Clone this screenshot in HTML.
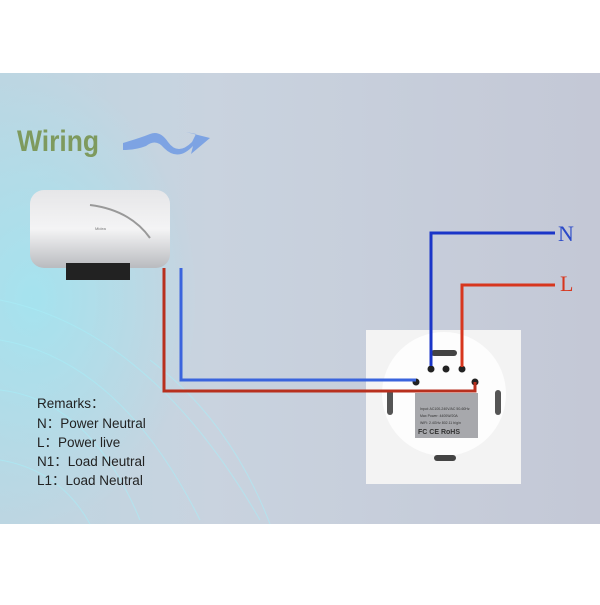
<!DOCTYPE html><html><head><style>body{margin:0;width:600px;height:600px;overflow:hidden;background:#fff;font-family:"Liberation Sans",sans-serif}</style></head><body>
<svg width="600" height="600" viewBox="0 0 600 600" xmlns="http://www.w3.org/2000/svg">
<defs>
<linearGradient id="bg" x1="0" y1="0" x2="1" y2="0"><stop offset="0" stop-color="#bcd6e2"/><stop offset="0.35" stop-color="#c9d3df"/><stop offset="1" stop-color="#c4c8d6"/></linearGradient>
<radialGradient id="glow" cx="0.1" cy="0.5" r="0.5"><stop offset="0" stop-color="#9fe6f2" stop-opacity="0.8"/><stop offset="1" stop-color="#9fe6f2" stop-opacity="0"/></radialGradient>
<linearGradient id="tank" x1="0" y1="0" x2="0" y2="1"><stop offset="0" stop-color="#e6e6e8"/><stop offset="0.5" stop-color="#f4f4f5"/><stop offset="1" stop-color="#b9bbbf"/></linearGradient>
</defs>
<rect x="0" y="73" width="600" height="451" fill="url(#bg)"/>
<rect x="0" y="73" width="330" height="451" fill="url(#glow)"/>
<g stroke="#a8eef8" stroke-width="1" fill="none" opacity="0.6">
<path d="M0 300 Q150 330 260 520"/><path d="M0 340 Q120 360 200 520"/><path d="M0 390 Q90 400 140 520"/><path d="M150 360 Q230 420 270 524"/><path d="M0 460 Q60 470 90 524"/>
</g>
<text x="17" y="151" font-size="30" font-weight="bold" fill="#7e9a5e" textLength="82" lengthAdjust="spacingAndGlyphs">Wiring</text>
<path d="M123 143 Q140 138 150 134 Q160 130 168 142 Q178 156 192 142 L196 134 L186 132 L210 138 L191 154 L193 146 Q178 162 164 148 Q156 138 146 146 Q136 150 123 150Z" fill="#7da3e3"/>
<rect x="30" y="190" width="140" height="78" rx="14" fill="url(#tank)"/>
<path d="M90 205 Q130 210 150 238" stroke="#999" stroke-width="2" fill="none"/>
<rect x="66" y="263" width="64" height="17" fill="#222"/>
<text x="95" y="230" font-size="4" fill="#777">Midea</text>
<rect x="366" y="330" width="155" height="154" fill="#f3f3f3"/>
<circle cx="444" cy="394" r="62" fill="#fdfdfd"/>
<rect x="415" y="393" width="63" height="45" fill="#a7a8ac"/>
<text x="420" y="410" font-size="3.5" fill="#333">Input: AC100-240V/AC 50-60Hz</text>
<text x="420" y="417" font-size="3.5" fill="#333">Max Power: 4400W/20A</text>
<text x="420" y="424" font-size="3.5" fill="#333">WiFi: 2.4GHz 802.11 b/g/n</text>
<text x="418" y="434" font-size="7" fill="#333" font-weight="bold">FC CE RoHS</text>
<rect x="431" y="350" width="26" height="6" rx="3" fill="#444"/>
<rect x="434" y="455" width="22" height="6" rx="3" fill="#444"/>
<rect x="387" y="390" width="6" height="25" rx="3" fill="#555"/>
<rect x="495" y="390" width="6" height="25" rx="3" fill="#555"/>
<circle cx="431" cy="369" r="3.5" fill="#222"/><circle cx="446" cy="369" r="3.5" fill="#222"/><circle cx="462" cy="369" r="3.5" fill="#222"/>
<circle cx="416" cy="382" r="3.5" fill="#222"/><circle cx="475" cy="382" r="3.5" fill="#222"/>
<polyline points="555,233 431,233 431,366" fill="none" stroke="#1a35c8" stroke-width="3"/>
<polyline points="555,285 462,285 462,367" fill="none" stroke="#d7361e" stroke-width="3"/>
<polyline points="164,268 164,391 475,391 475,382" fill="none" stroke="#b8301e" stroke-width="3"/>
<polyline points="181,268 181,380 416,380" fill="none" stroke="#3a64dd" stroke-width="3"/>
<text x="558" y="241" font-family="Liberation Serif" font-size="22" fill="#2a49c8">N</text>
<text x="560" y="291" font-family="Liberation Serif" font-size="22" fill="#d7361e">L</text>
<g font-size="13.5" fill="#222">
<text x="37" y="408">Remarks：</text>
<text x="37" y="428">N：Power Neutral</text>
<text x="37" y="447">L：Power live</text>
<text x="37" y="466">N1：Load Neutral</text>
<text x="37" y="485">L1：Load Neutral</text>
</g>
</svg></body></html>
